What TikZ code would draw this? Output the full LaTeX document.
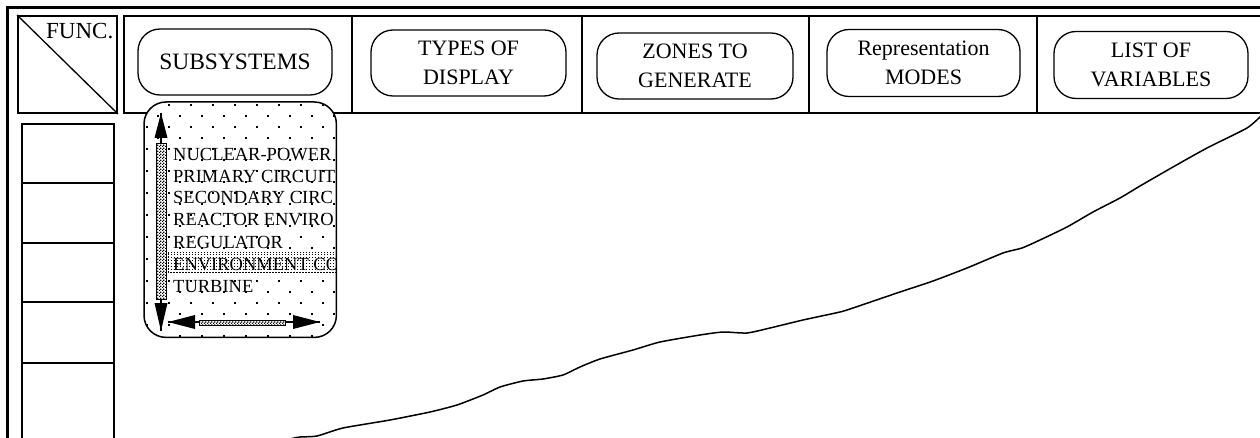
\documentclass[tikz,border=0pt]{standalone}
\usepackage{fontspec}
\setmainfont{Liberation Serif}
\usetikzlibrary{patterns}
\pgfdeclarepatternformonly{finecheck}{\pgfqpoint{0pt}{0pt}}{\pgfqpoint{3pt}{3pt}}{\pgfqpoint{3pt}{3pt}}{%
  \pgfpathrectangle{\pgfqpoint{0pt}{0pt}}{\pgfqpoint{1.5pt}{1.5pt}}%
  \pgfpathrectangle{\pgfqpoint{1.5pt}{1.5pt}}{\pgfqpoint{1.5pt}{1.5pt}}%
  \pgfusepath{fill}}
\pgfdeclarepatternformonly{densedots}{\pgfqpoint{0pt}{0pt}}{\pgfqpoint{3pt}{3pt}}{\pgfqpoint{3pt}{3pt}}{%
  \pgfpathrectangle{\pgfqpoint{0pt}{0pt}}{\pgfqpoint{1.1pt}{1.1pt}}%
  \pgfusepath{fill}}
\begin{document}
\begin{tikzpicture}[x=1pt,y=-1pt,
  frame/.style={line width=3pt},
  boxline/.style={draw,line width=2pt,inner sep=0pt},
  btn/.style={draw,line width=1.3pt,rounded corners=22pt,align=center,inner sep=0pt,
    font=\fontsize{22}{29}\selectfont},
  listtxt/.style={anchor=base west,inner sep=0pt,font=\fontsize{18.5}{20}\selectfont},
  bar/.style={draw,line width=1.2pt,inner sep=0pt,preaction={fill=white},pattern=finecheck},
  curve/.style={line width=1.5pt,line join=round,line cap=round}]
\useasboundingbox (0,0) rectangle (1260,438);
% outer frame
\draw[frame] (7,440) -- (7,8) -- (1265,8);
% FUNC box
\node[boxline,minimum width=99pt,minimum height=97pt,anchor=north west] (func) at (17,15) {};
\draw[line width=1.3pt] (func.north west) -- (func.south east);
\node[anchor=base west,inner sep=0pt,font=\fontsize{23}{26}\selectfont] (functxt) at (46,39) {FUNC.};
% header
\node[boxline,minimum width=1160pt,minimum height=97pt,anchor=north west] (hdr) at (123,15) {};
\foreach \xx in {352,582,809,1037}{\draw[line width=1.5pt] (\xx,15) -- (\xx,112);}
\node[btn,minimum width=194pt,minimum height=66pt,font=\fontsize{23.5}{28}\selectfont] (sub) at (235,62) {SUBSYSTEMS};
\node[btn,minimum width=195pt,minimum height=66pt] (types) at (468.5,63) {TYPES OF\\DISPLAY};
\node[btn,minimum width=196pt,minimum height=66pt] (zones) at (695,66) {ZONES TO\\GENERATE};
\node[btn,minimum width=193pt,minimum height=67pt] (repr) at (923.5,63) {Representation\\MODES};
\node[btn,minimum width=194pt,minimum height=67pt] (vars) at (1151,65) {LIST OF\\VARIABLES};
% left column cells
\node[boxline,minimum width=92pt,minimum height=59pt,anchor=north west] (c1) at (21,123) {};
\node[boxline,minimum width=92pt,minimum height=60pt,anchor=north west] (c2) at (21,182) {};
\node[boxline,minimum width=92pt,minimum height=59pt,anchor=north west] (c3) at (21,242) {};
\node[boxline,minimum width=92pt,minimum height=61pt,anchor=north west] (c4) at (21,301) {};
\node[boxline,minimum width=92pt,minimum height=90pt,anchor=north west] (c5) at (21,362) {};
% curve
\draw[curve] plot[smooth,tension=0.35] coordinates {(290,439) (300,437) (317,436) (343,428) (390,420) (430,412) (457,405) (483,395) (500,387) (523,381) (543,379) (563,375) (580,367) (600,359) (633,350) (660,342) (700,335) (723,332) (747,333) (770,328) (803,320) (840,312) (853,308) (897,293) (933,281) (967,268) (1003,253) (1022,248) (1040,240) (1067,227) (1093,212) (1120,198) (1140,186) (1173,167) (1207,148) (1247,128) (1262,115)};
% list box
\node[fill=white,minimum width=192pt,minimum height=235pt,anchor=north west,inner sep=0pt,rounded corners=22pt] (list) at (144,102) {};
\begin{scope}
\clip[rounded corners=22pt] (list.north west) rectangle (list.south east);
\foreach \j in {0,...,10}{
  \foreach \i in {0,...,9}{
    \fill (146+22*\i,104+22*\j) rectangle ++(2,2);
    \fill (157+22*\i,115+22*\j) rectangle ++(2,2);
  }
}
\fill[white] (168,253) rectangle (340,272);
\node[listtxt] (l1) at (173,161) {NUCLEAR-POWER};
\node[listtxt] (l2) at (173,183) {PRIMARY CIRCUIT};
\node[listtxt] (l3) at (173,204) {SECONDARY CIRC};
\node[listtxt] (l4) at (173,226) {REACTOR ENVIRO};
\node[listtxt] (l5) at (173,248) {REGULATOR};
\node[listtxt] (l6) at (173,270) {ENVIRONMENT CO};
\node[listtxt] (l7) at (173,292) {TURBINE};
\fill[pattern=densedots] (168,253) rectangle (340,272);
\draw[dotted,line width=1pt] (168,253) rectangle (340,272);
\end{scope}
\draw[line width=1.5pt,rounded corners=22pt] (list.north west) rectangle (list.south east);
% vertical scrollbar
\coordinate (vt) at (161,113);
\coordinate (vb) at (161,331);
\draw[line width=1.3pt] (vt) -- (vb);
\fill (vt) -- (154.5,138) -- (167.5,138) -- cycle;
\fill (vb) -- (154.5,303) -- (167.5,303) -- cycle;
\node[bar,minimum width=10pt,minimum height=156pt,anchor=north west] (vthumb) at (155.5,143) {};
% horizontal scrollbar
\coordinate (hl) at (168,322);
\coordinate (hr) at (320,322);
\draw[line width=1.3pt] (hl) -- (hr);
\fill (hl) -- (195,315) -- (195,329) -- cycle;
\fill (hr) -- (293,315) -- (293,329) -- cycle;
\node[bar,minimum width=86pt,minimum height=5pt,anchor=north west] (hthumb) at (199,319.5) {};
\end{tikzpicture}
\end{document}
